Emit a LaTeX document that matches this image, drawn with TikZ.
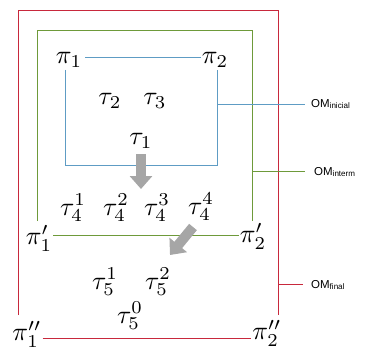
\documentclass[tikz,border=0pt]{standalone}
\usepackage{fontspec}
\newfontfamily\labfont{Liberation Sans}
\usetikzlibrary{arrows.meta}
\definecolor{omred}{HTML}{C8283C}
\definecolor{omgreen}{HTML}{6E9A3A}
\definecolor{omblue}{HTML}{5E9CC4}
\definecolor{arrgray}{HTML}{A6A6A6}
\newcommand\SymBig[1]{\scalebox{2.6}{$#1$}}
\begin{document}
\begin{tikzpicture}[x=1pt,y=-1pt,
  sym/.style={inner sep=0pt},
  omlab/.style={inner sep=0pt, anchor=west, font=\labfont\fontsize{11.5}{13}\selectfont},
  redl/.style={draw=omred, line width=1.3pt},
  greenl/.style={draw=omgreen, line width=1.3pt},
  bluel/.style={draw=omblue, line width=1.3pt},
  bigarrow/.style={draw=arrgray, line width=10pt, -{Triangle[width=22pt,length=13pt]}}]
\useasboundingbox (0,0) rectangle (374,350);
% symbols
\node[sym] (pi1) at (69,60) {\SymBig{\pi_1}};
\node[sym] (pi2) at (215,60) {\SymBig{\pi_2}};
\node[sym] (pi1p) at (39,238) {\SymBig{\pi_1'}};
\node[sym] (pi2p) at (253,236) {\SymBig{\pi_2'}};
\node[sym] (pi1pp) at (27,334) {\SymBig{\pi_1''}};
\node[sym] (pi2pp) at (267,333) {\SymBig{\pi_2''}};
\node[sym] (t2) at (110,101) {\SymBig{\tau_2}};
\node[sym] (t3) at (155,101) {\SymBig{\tau_3}};
\node[sym] (t1) at (141,141) {\SymBig{\tau_1}};
\node[sym] (t41) at (73,208) {\SymBig{\tau_4^1}};
\node[sym] (t42) at (116,208) {\SymBig{\tau_4^2}};
\node[sym] (t43) at (157,208) {\SymBig{\tau_4^3}};
\node[sym] (t44) at (201,207) {\SymBig{\tau_4^4}};
\node[sym] (t51) at (105,282) {\SymBig{\tau_5^1}};
\node[sym] (t52) at (158,282) {\SymBig{\tau_5^2}};
\node[sym] (t50) at (130,316) {\SymBig{\tau_5^0}};
% labels
\node[omlab] (omi) at (311,104) {OM\textsubscript{inicial}};
\node[omlab] (omm) at (314,172) {OM\textsubscript{interm}};
\node[omlab] (omf) at (311,285) {OM\textsubscript{final}};
% frame corners
\coordinate (r1) at (18.5,315);
\coordinate (r2) at (278.5,315);
\coordinate (g1) at (37.5,221);
\coordinate (g2) at (252.5,221);
\coordinate (b1) at (65.5,70);
\coordinate (b2) at (217.5,70);
\coordinate (bt) at (217.5,104.5);
\coordinate (gt) at (252.5,171.5);
\coordinate (rt) at (278.5,284.5);
% red frame
\draw[redl] (r1) |- (18.5,10.5) -| (r2);
\draw[redl] ([xshift=1pt]pi1pp.east |- 0,338.5) -- ([xshift=-1pt]pi2pp.west |- 0,338.5);
\draw[redl] (rt) -- ([xshift=-8pt]omf.west |- rt);
% green frame
\draw[greenl] (g1) |- (37.5,30.5) -| (g2);
\draw[greenl] ([xshift=1pt]pi1p.east |- 0,235.5) -- ([xshift=-1pt]pi2p.west |- 0,235.5);
\draw[greenl] (gt) -- ([xshift=-9pt]omm.west |- gt);
% blue frame
\draw[bluel] ([xshift=3pt]pi1.east |- 0,57.5) -- ([xshift=-1pt]pi2.west |- 0,57.5);
\draw[bluel] (b1) |- (217.5,165.5) -- (b2);
\draw[bluel] (bt) -- ([xshift=-6pt]omi.west |- bt);
% gray arrows
\draw[bigarrow] (141,154) -- (141,189);
\draw[bigarrow] (193,227) -- (170,255);
\end{tikzpicture}
\end{document}
